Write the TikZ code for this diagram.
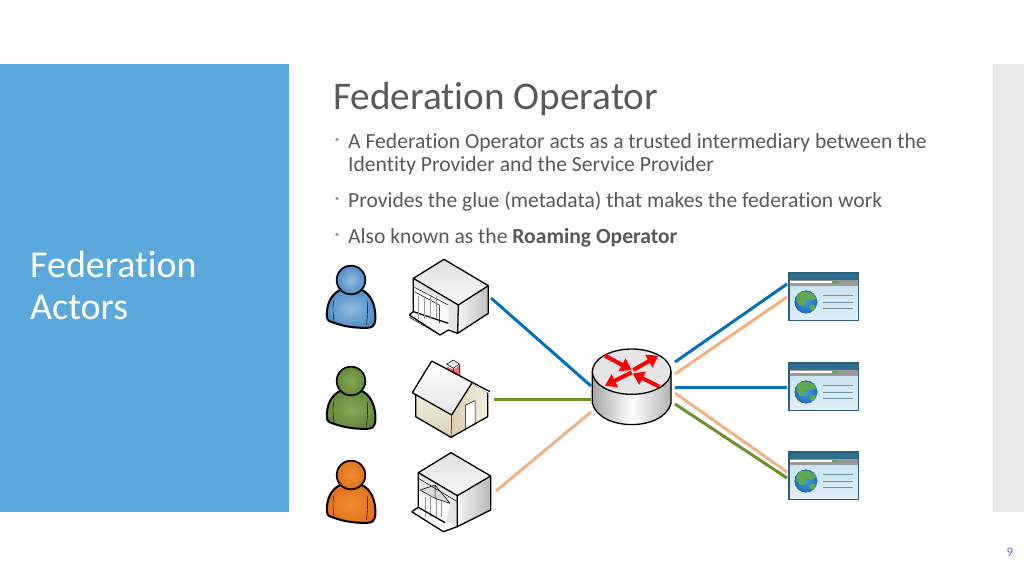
\documentclass[tikz,border=0pt]{standalone}
\usepackage{fontspec}
\setmainfont[Ligatures=NoCommon]{Carlito}
\usetikzlibrary{arrows.meta}
\definecolor{panelblue}{HTML}{5BA8DC}
\definecolor{stripgray}{HTML}{E9E9E9}
\definecolor{textgray}{HTML}{595959}
\definecolor{linkblue}{HTML}{0070C0}
\definecolor{linkgreen}{HTML}{6F8F2B}
\definecolor{linkorange}{HTML}{F4B183}
\definecolor{pageblue}{HTML}{C4DFF1}
\definecolor{pagepale}{HTML}{E0EFF8}
\definecolor{pagehead}{HTML}{2F6F8F}
\definecolor{pageedge}{HTML}{2F5F77}
\definecolor{pagerule}{HTML}{6F93A8}
\definecolor{globeblue}{HTML}{1F6FBF}
\definecolor{globepale}{HTML}{3F98D8}
\definecolor{globegreen}{HTML}{5FA84F}
\definecolor{userblueA}{HTML}{93BCE2}
\definecolor{userblueB}{HTML}{4F8EC9}
\definecolor{usergreenA}{HTML}{86A858}
\definecolor{usergreenB}{HTML}{64893A}
\definecolor{userorangeA}{HTML}{F08E36}
\definecolor{userorangeB}{HTML}{E2711A}
\definecolor{wallbeige}{HTML}{D9CFB0}
\definecolor{wallpale}{HTML}{F3EFE2}
\definecolor{pagenumber}{HTML}{8064A2}
\tikzset{
  link/.style={line width=3pt},
  icon/.style={draw=black,line width=1.3pt,line join=round},
  thin icon/.style={draw=black,line width=.5pt,line join=round},
  bodytext/.style={anchor=base west,text=textgray,inner sep=0pt,font=\fontsize{21.6}{24}\selectfont},
  bullet/.style={anchor=center,text=gray!80,inner sep=0pt,font=\fontsize{9}{9}\selectfont},
  routerarrow/.style={draw=red,line width=4pt,-{Triangle[length=11pt,width=14pt]}},
  pics/person/.style n args={2}{code={
    \begin{scope}[scale=1/3]
    \draw[line width=2pt,inner color=#1,outer color=#2] (-28,28) .. controls (-60,40) and (-75,75) .. (-72,110)
      .. controls (-72,125) and (-60,125) .. (-40,132) .. controls (-10,142) and (30,145) .. (55,143)
      .. controls (70,142) and (75,125) .. (73,105) .. controls (72,75) and (60,40) .. (28,28) -- cycle;
    \draw[line width=.4pt] (-52,62) .. controls (-56,85) and (-54,105) .. (-50,128);
    \draw[line width=.4pt] (48,62) .. controls (52,85) and (50,105) .. (46,135);
    \draw[line width=1.7pt,inner color=#1,outer color=#2] (0,0) circle (43);
    \end{scope}}},
  pics/webpage/.style={code={
    \begin{scope}[scale=1/3]
    \fill[top color=pageblue,bottom color=pagepale] (0,0) rectangle (208,143);
    \fill[pagehead] (0,0) rectangle (208,20);
    \fill[gray!80] (0,20) rectangle (208,40);
    \fill[white] (3,25) rectangle (128,31);
    \fill[globegreen] (128,25) rectangle (151,31);
    \begin{scope}
      \clip (51,87) circle (34);
      \fill[inner color=globepale,outer color=globeblue] (51,87) circle (34);
      \fill[globegreen] (25,62) .. controls (45,50) and (70,55) .. (82,75) .. controls (70,90) and (60,75) .. (48,82)
        .. controls (55,100) and (40,105) .. (30,95) .. controls (22,85) and (20,75) .. (25,62) -- cycle;
      \fill[globegreen] (62,98) .. controls (75,92) and (82,98) .. (78,108) .. controls (70,118) and (60,112) .. (62,98) -- cycle;
    \end{scope}
    \foreach \ypos in {68,87,105}
      \draw[line width=.9pt,pagerule] (103,\ypos) -- (191,\ypos);
    \draw[line width=1.1pt,pageedge] (0,0) rectangle (208,143);
    \end{scope}}}
}
\begin{document}
\begin{tikzpicture}[x=1pt,y=-1pt]
\useasboundingbox (0,0) rectangle (1024,576);
% slide background
\fill[white] (0,0) rectangle (1024,576);
\fill[panelblue] (0,64) rectangle (289,512);
\fill[stripgray] (993,64) rectangle (1024,512);

\node[anchor=base west,text=white,inner sep=0pt,align=left,font=\fontsize{38}{42}\selectfont] (actors) at (30,319) {Federation\\Actors};
\node[anchor=base west,text=textgray,inner sep=0pt,font=\fontsize{39.2}{42}\selectfont] (heading) at (333,109) {Federation Operator};

\node[bullet] (dota) at (337,140) {•};
\node[bodytext] (linea) at (348,148) {A Federation Operator acts as a trusted intermediary between the};
\node[bodytext] (lineb) at (348,171) {Identity Provider and the Service Provider};
\node[bullet] (dotb) at (337,199) {•};
\node[bodytext] (linec) at (348,207) {Provides the glue (metadata) that makes the federation work};
\node[bullet] (dotc) at (337,235) {•};
\node[bodytext] (lined) at (348,243) {Also known as the \textbf{Roaming Operator}};
\node[anchor=base,text=pagenumber,inner sep=0pt,font=\fontsize{13}{13}\selectfont] (pagenum) at (1010,556) {9};

% users
\pic at (351,280) {person={userblueA}{userblueB}};
\pic at (351,381) {person={usergreenA}{usergreenB}};
\pic at (351,475) {person={userorangeA}{userorangeB}};

% first building
\begin{scope}[shift={(320,255)},scale=1/3]
\fill[top color=white!88!black,bottom color=white!97!black] (280,70) -- (372,13) -- (505,92) -- (415,150) -- cycle;
\fill[left color=white!96!black,right color=white!75!black] (415,150) -- (505,92) -- (505,175) -- (413,235) -- cycle;
\fill[white!90!black] (280,70) -- (415,150) -- (413,235) -- (385,215) -- (385,140) -- (280,95) -- cycle;
\fill[white!98!black] (283,100) -- (385,150) -- (385,210) -- (360,235) -- (272,182) -- (283,170) -- cycle;
\draw[icon] (280,70) -- (372,13) -- (505,92) -- (505,175) -- (413,235) -- (415,150) -- cycle;
\draw[icon] (505,92) -- (415,150);
\draw[icon] (280,70) -- (280,170) (268,180) -- (360,240) -- (385,225) -- (413,235);
\draw[icon] (268,180) -- (280,170) -- (385,205);
\draw[thin icon] (268,187) -- (360,240) (283,97) -- (385,150) (283,110) -- (358,150) -- (358,205);
\foreach \xpos in {296,314,332,350}
  \draw[thin icon,black!40] (\xpos,122) -- (\xpos,192);
\end{scope}

% house
\begin{scope}[shift={(320,350)},scale=1/3]
\fill[red!60!white] (380,48) -- (400,60) -- (420,45) -- (420,78) -- (385,60) -- cycle;
\draw[thin icon,fill=white!90!black] (380,42) -- (400,30) -- (418,42) -- (400,55) -- cycle;
\draw[thin icon] (418,42) -- (420,78) (400,55) -- (400,70);
\fill[top color=wallpale,bottom color=wallbeige] (287,135) -- (395,195) -- (393,262) -- (287,200) -- cycle;
\fill[left color=wallbeige,right color=wallpale] (395,195) -- (455,100) -- (503,130) -- (503,200) -- (393,262) -- cycle;
\fill[top color=white,bottom color=white!90!black] (335,33) -- (455,100) -- (395,195) -- (277,128) -- cycle;
\fill[white] (437,165) -- (465,152) -- (465,225) -- (437,240) -- cycle;
\draw[icon] (335,33) -- (510,125) (335,33) -- (277,128) -- (395,195) -- (455,100);
\draw[icon] (287,135) -- (287,200) -- (393,262) -- (503,200) -- (503,128);
\draw[thin icon] (395,195) -- (393,262);
\draw[thin icon] (437,240) -- (437,165) -- (465,152) -- (465,225);
\end{scope}

% second building
\begin{scope}[shift={(320,350)},scale=1/3]
\fill[top color=white!88!black,bottom color=white!97!black] (295,368) -- (393,308) -- (512,378) -- (412,437) -- cycle;
\fill[left color=white!96!black,right color=white!72!black] (412,437) -- (512,378) -- (512,480) -- (412,530) -- cycle;
\fill[white!90!black] (295,368) -- (412,437) -- (412,530) -- (295,470) -- cycle;
\fill[white!98!black] (300,420) -- (390,465) -- (375,525) -- (285,478) -- cycle;
\foreach \xpos in {316,332,348,364}
  \draw[thin icon,black!40] (\xpos,440) -- (\xpos,500);
\fill[white!85!black] (300,420) -- (345,405) -- (390,460) -- cycle;
\draw[icon] (295,368) -- (393,308) -- (512,378) -- (512,480) -- (412,530) -- (412,437) -- cycle;
\draw[icon] (512,378) -- (412,437);
\draw[icon] (295,368) -- (295,470) (275,485) -- (370,545) -- (412,530);
\draw[icon] (275,485) -- (295,472) -- (375,518);
\draw[thin icon] (295,385) -- (412,455) (300,420) -- (345,405) -- (390,460) -- (345,445) -- cycle (345,405) -- (345,445);
\end{scope}

% router
\begin{scope}[shift={(580,335)},scale=1/3]
\fill[left color=white!65!black,right color=white!70!black,middle color=white] (37,110) -- (37,205) .. controls (60,290) and (250,290) .. (273,205) -- (273,110) -- cycle;
\draw[icon] (37,110) -- (37,205) .. controls (60,290) and (250,290) .. (273,205) -- (273,110);
\draw[icon,fill=white!90!black] (155,110) ellipse (118 and 68);
\draw[routerarrow] (75,62) -- (155,105);
\draw[routerarrow] (160,105) -- (235,62);
\draw[routerarrow] (155,112) -- (75,152);
\draw[routerarrow] (238,155) -- (158,115);
\end{scope}

% servers
\pic at (789,273) {webpage};
\pic at (789,363) {webpage};
\pic at (789,452) {webpage};

% link end points
\coordinate (bankA) at (491,298);
\coordinate (homeB) at (494,399);
\coordinate (bankC) at (496,491);
\coordinate (routerA) at (591,386);
\coordinate (routerB) at (591,399);
\coordinate (routerC) at (591,412);
\coordinate (routerD) at (675,362);
\coordinate (routerE) at (675,374);
\coordinate (routerF) at (675,387);
\coordinate (routerG) at (675,393);
\coordinate (routerH) at (675,404);
\coordinate (siteA) at (787,284);
\coordinate (siteB) at (787,297);
\coordinate (siteC) at (787,387);
\coordinate (siteD) at (787,472);
\coordinate (siteE) at (787,478);

\draw[link,linkblue] (bankA) -- (routerA);
\draw[link,linkgreen] (homeB) -- (routerB);
\draw[link,linkorange] (bankC) -- (routerC);
\draw[link,linkblue] (routerD) -- (siteA);
\draw[link,linkorange] (routerE) -- (siteB);
\draw[link,linkblue] (routerF) -- (siteC);
\draw[link,linkorange] (routerG) -- (siteD);
\draw[link,linkgreen] (routerH) -- (siteE);
\end{tikzpicture}
\end{document}
